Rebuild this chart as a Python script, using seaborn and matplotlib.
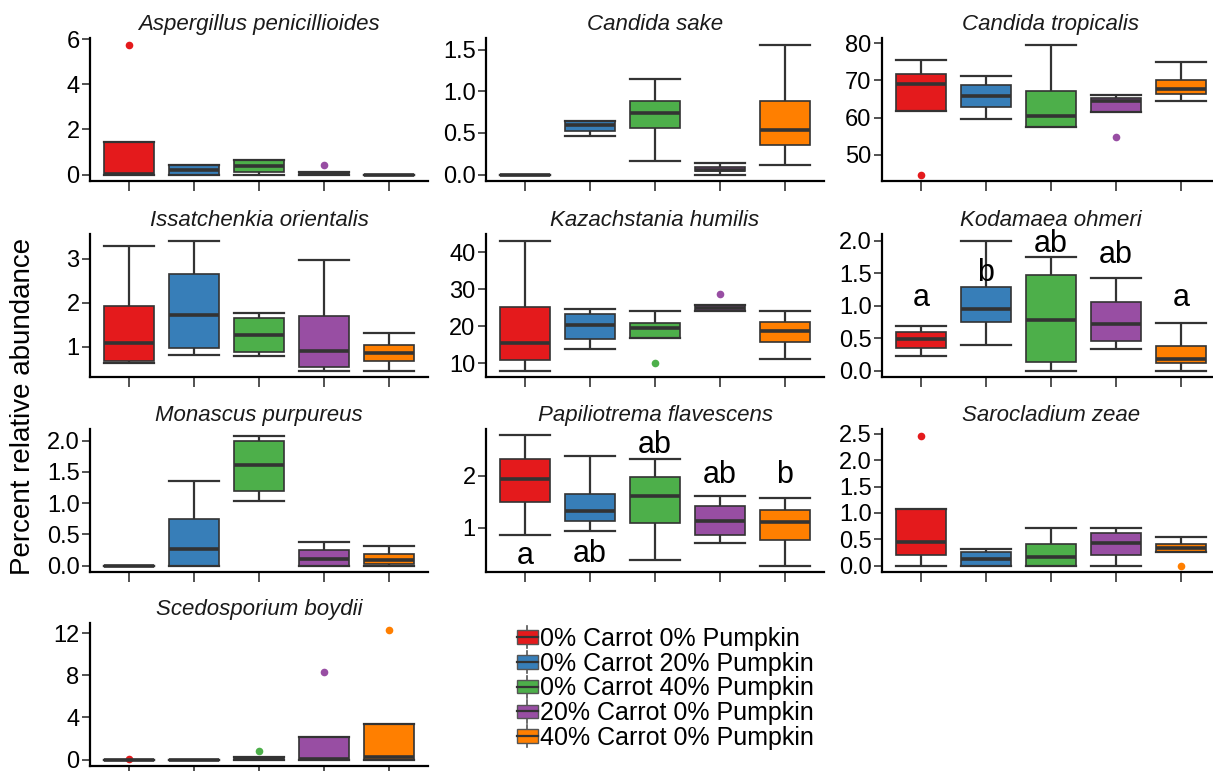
import numpy as np
import pandas as pd
import matplotlib
matplotlib.use("Agg")
import matplotlib.pyplot as plt
from matplotlib.legend_handler import HandlerBase
from matplotlib.patches import Rectangle
from matplotlib.lines import Line2D
import seaborn as sns

# ==========================================
# DATA
# ==========================================
GROUPS = [
    "0% Carrot 0% Pumpkin",
    "0% Carrot 20% Pumpkin",
    "0% Carrot 40% Pumpkin",
    "20% Carrot 0% Pumpkin",
    "40% Carrot 0% Pumpkin",
]
PALETTE = ["#E41A1C", "#377EB8", "#4DAF4A", "#984EA3", "#FF7F00"]

SPECIES = [
    "Aspergillus penicillioides", "Candida sake", "Candida tropicalis",
    "Issatchenkia orientalis", "Kazachstania humilis", "Kodamaea ohmeri",
    "Monascus purpureus", "Papiliotrema flavescens", "Sarocladium zeae",
    "Scedosporium boydii",
]

# percent relative abundance per sample, one list per group (GROUPS order)
ASPERGILLUS = [[0, 0, 0.04, 1.42, 5.76], [0, 0, 0.22, 0.40, 0.40], [0, 0.12, 0.38, 0.64, 0.66],
               [0, 0, 0.04, 0.12, 0.44], [0, 0, 0, 0, 0]]
CANDIDA_SAKE = [[0, 0, 0, 0, 0], [0.46, 0.52, 0.59, 0.64, 0.64], [0.16, 0.56, 0.74, 0.88, 1.15],
                [0, 0.04, 0.06, 0.09, 0.14], [0.12, 0.35, 0.54, 0.88, 1.56]]
CANDIDA_TROP = [[44.7, 61.7, 69.0, 71.8, 75.4], [59.7, 62.8, 65.9, 68.8, 71.1], [57.4, 57.4, 60.3, 67.2, 79.6],
                [54.8, 61.4, 64.3, 65.3, 66.1], [64.3, 66.2, 67.6, 70.0, 74.8]]
ISSATCHENKIA = [[0.62, 0.68, 1.09, 1.92, 3.29], [0.82, 0.96, 1.71, 2.65, 3.41], [0.80, 0.88, 1.26, 1.65, 1.77],
                [0.46, 0.53, 0.90, 1.69, 2.96], [0.46, 0.68, 0.86, 1.04, 1.32]]
KAZACHSTANIA = [[8.1, 11.0, 15.6, 25.2, 43.2], [13.9, 16.5, 20.3, 23.3, 24.7], [10.0, 17.0, 19.6, 21.0, 24.3],
                [24.1, 24.1, 24.9, 25.7, 28.7], [11.1, 15.9, 18.9, 21.3, 24.1]]
KODAMAEA = [[0.23, 0.34, 0.48, 0.60, 0.69], [0.39, 0.74, 0.95, 1.28, 2.00], [0, 0.13, 0.78, 1.47, 1.74],
            [0.33, 0.46, 0.72, 1.06, 1.42], [0, 0.11, 0.18, 0.37, 0.73]]
MONASCUS = [[0, 0, 0, 0, 0], [0, 0, 0.27, 0.75, 1.36], [1.04, 1.19, 1.61, 2.00, 2.08],
            [0, 0, 0.11, 0.25, 0.38], [0, 0.02, 0.09, 0.19, 0.32]]
PAPILIOTREMA = [[0.86, 1.50, 1.94, 2.32, 2.77], [0.94, 1.13, 1.31, 1.65, 2.38], [0.38, 1.08, 1.60, 1.97, 2.31],
                [0.70, 0.86, 1.13, 1.41, 1.60], [0.27, 0.77, 1.10, 1.34, 1.56]]
SAROCLADIUM = [[0, 0.20, 0.44, 1.08, 2.47], [0, 0, 0.12, 0.26, 0.31], [0, 0, 0.17, 0.41, 0.71],
               [0, 0.20, 0.43, 0.61, 0.71], [0, 0.26, 0.34, 0.40, 0.54]]
SCEDOSPORIUM = [[0, 0, 0, 0, 0.05], [0, 0, 0, 0, 0], [0, 0, 0.10, 0.28, 0.85],
                [0, 0, 0.06, 2.17, 8.38], [0, 0, 0.25, 3.37, 12.38]]

SPECIES_VALUES = [ASPERGILLUS, CANDIDA_SAKE, CANDIDA_TROP, ISSATCHENKIA, KAZACHSTANIA,
                  KODAMAEA, MONASCUS, PAPILIOTREMA, SAROCLADIUM, SCEDOSPORIUM]

Y_TICKS = [[0, 2, 4, 6], [0, 0.5, 1, 1.5], [50, 60, 70, 80], [1, 2, 3], [10, 20, 30, 40],
           [0, 0.5, 1, 1.5, 2], [0, 0.5, 1, 1.5, 2], [1, 2], [0, 0.5, 1, 1.5, 2, 2.5], [0, 4, 8, 12]]

# significance letters (Kodamaea ohmeri, Papiliotrema flavescens)
KODAMAEA_LETTERS = ["a", "b", "ab", "ab", "a"]
KODAMAEA_LETTER_Y = [0.99, 1.37, 1.83, 1.66, 0.99]
PAPILIOTREMA_LETTERS = ["a", "ab", "ab", "ab", "b"]
PAPILIOTREMA_LETTER_Y = [0.30, 0.33, 2.43, 1.86, 1.86]
LETTERS = {5: (KODAMAEA_LETTERS, KODAMAEA_LETTER_Y), 7: (PAPILIOTREMA_LETTERS, PAPILIOTREMA_LETTER_Y)}

rows = []
for name, group_vals in zip(SPECIES, SPECIES_VALUES):
    for g, vals in zip(GROUPS, group_vals):
        for v in vals:
            rows.append((name, g, v))
df = pd.DataFrame(rows, columns=["species", "group", "value"])

# ==========================================
# STYLE
# ==========================================
plt.rcParams["font.family"] = ["Liberation Sans", "DejaVu Sans"]
plt.rcParams["axes.linewidth"] = 1.6
DARK = "#333333"

W, H = 1213, 771
COL_LEFT = [90, 486, 882]
ROW_TOP = [38, 234, 429, 623]
PANEL_W, PANEL_H = 338, 143


class BoxKeyHandler(HandlerBase):
    def create_artists(self, legend, orig_handle, xdescent, ydescent,
                       width, height, fontsize, trans):
        x0, y0 = -xdescent, -ydescent
        cx = x0 + width / 2
        whisk = Line2D([cx, cx], [y0, y0 + height], color="#555555", lw=1.2, transform=trans)
        box = Rectangle((x0, y0 + 0.2 * height), width, 0.6 * height,
                        facecolor=orig_handle.get_facecolor(), edgecolor="#555555",
                        lw=1.0, transform=trans)
        med = Line2D([x0, x0 + width], [y0 + 0.5 * height] * 2, color=DARK, lw=1.6, transform=trans)
        return [whisk, box, med]


fig = plt.figure(figsize=(W / 100, H / 100), dpi=100)

for i, name in enumerate(SPECIES):
    r, c = divmod(i, 3)
    rect = [COL_LEFT[c] / W, 1 - (ROW_TOP[r] + PANEL_H) / H, PANEL_W / W, PANEL_H / H]
    ax = fig.add_axes(rect)
    sub = df[df["species"] == name]
    sns.boxplot(data=sub, x="group", y="value", hue="group", order=GROUPS, hue_order=GROUPS,
                palette=PALETTE, saturation=1, width=0.76, linecolor=DARK, linewidth=1.2,
                legend=False,
                flierprops=dict(marker="o", markersize=5.5, markeredgewidth=0),
                medianprops=dict(linewidth=2.6),
                whiskerprops=dict(linewidth=1.6), capprops=dict(linewidth=1.6),
                capwidths=0.76, ax=ax)
    # colour outlier points with their group colour
    for line in ax.lines:
        xd = line.get_xdata()
        if line.get_marker() == "o" and len(xd) > 0:
            line.set_markerfacecolor(PALETTE[int(round(xd[0]))])
            line.set_markeredgecolor(PALETTE[int(round(xd[0]))])

    ax.set_xlim(-0.6, 4.6)
    ticks = Y_TICKS[i]
    ax.set_yticks(ticks)
    if any(t != int(t) for t in ticks):
        ax.set_yticklabels([f"{t:.1f}" for t in ticks])
    else:
        ax.set_yticklabels([f"{int(t)}" for t in ticks])
    ax.set_xlabel("")
    ax.set_ylabel("")
    ax.tick_params(axis="x", labelbottom=False, length=7, width=1.2, color=DARK)
    ax.tick_params(axis="y", labelsize=17, length=6, width=1.2, color=DARK, pad=1.5)
    for side in ["top", "right"]:
        ax.spines[side].set_visible(False)
    ax.set_facecolor("white")
    ax.set_title(name, fontsize=16, fontstyle="italic", color="#1a1a1a", pad=6)

    if i in LETTERS:
        labels, ys = LETTERS[i]
        for k, (lab, yv) in enumerate(zip(labels, ys)):
            ax.text(k, yv, lab, ha="center", va="baseline", fontsize=22)

fig.text(23 / W, 1 - 406 / H, "Percent relative abundance", rotation=90,
         ha="center", va="center", fontsize=20)

handles = [Rectangle((0, 0), 1, 1, facecolor=c) for c in PALETTE]
fig.legend(handles, GROUPS, loc="upper left", bbox_to_anchor=(517 / W, 1 - 626 / H),
           frameon=False, fontsize=18, handler_map={Rectangle: BoxKeyHandler()},
           handlelength=0.82, handleheight=1.0, handletextpad=0.12, labelspacing=0.0,
           borderaxespad=0, borderpad=0)

plt.savefig("out.png", dpi=100)
plt.close()
